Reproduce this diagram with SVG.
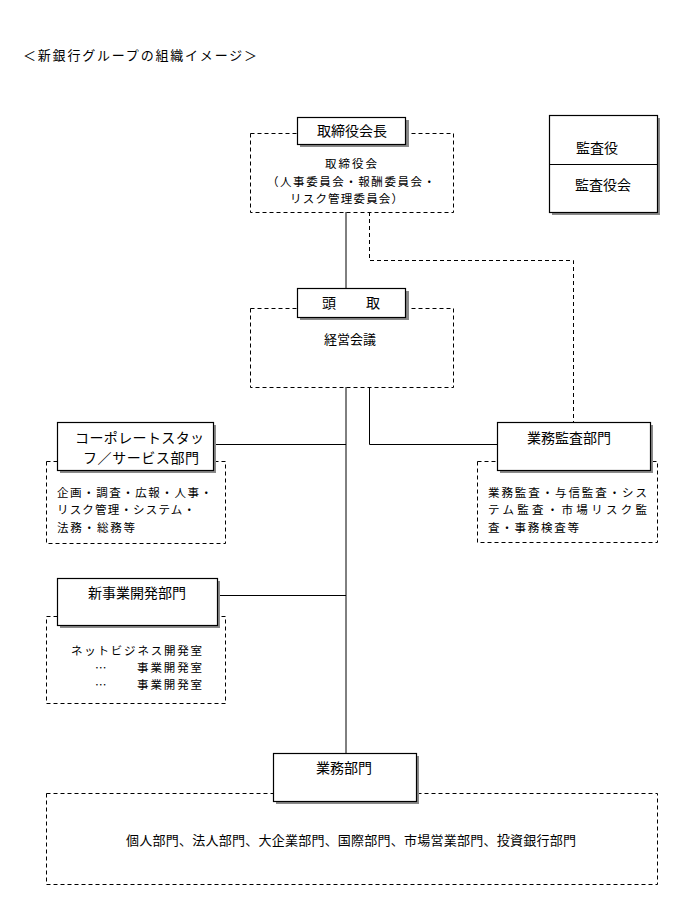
<svg xmlns="http://www.w3.org/2000/svg" width="693" height="907" viewBox="0 0 693 907">
<style>
text{font-family:"Noto Sans CJK JP","Noto Sans CJK SC",sans-serif;fill:#000;font-size:13px}
.lbl{font-size:14px}
.sm{font-size:11.5px}
.mid{text-anchor:middle}
.dash{fill:none;stroke:#000;stroke-width:1;stroke-dasharray:4,3}
.box{fill:#fff;stroke:#000;stroke-width:1.2}
.shadow{fill:#8a8a8a}
.line{fill:none;stroke:#000;stroke-width:1}
.dline{fill:none;stroke:#000;stroke-width:1;stroke-dasharray:4,3}
</style>
<rect width="693" height="907" fill="#fff"/>
<text id="title" x="23" y="60" textLength="234" lengthAdjust="spacing">＜新銀行グループの組織イメージ＞</text>
<g id="connectors">
<line class="line" x1="346" y1="212" x2="346" y2="288"/>
<line class="line" x1="346" y1="387" x2="346" y2="753"/>
<polyline class="dline" points="369.5,212 369.5,260.5 573.5,260.5 573.5,422"/>
<polyline class="line" points="369.5,387 369.5,444.5 497,444.5"/>
<line class="line" x1="213" y1="444.5" x2="346" y2="444.5"/>
<line class="line" x1="217" y1="595.5" x2="346" y2="595.5"/>
</g>
<g id="node-chairman">
<rect class="dash" x="250.5" y="133.5" width="203" height="79"/>
<rect class="shadow" x="300" y="120" width="109" height="27"/>
<rect class="box" x="297.5" y="117.5" width="108" height="27"/>
<text class="lbl mid" x="352" y="136">取締役会長</text>
<text class="sm mid" x="351" y="167.5" textLength="52" lengthAdjust="spacing">取締役会</text>
<text class="sm" x="267" y="185.5" textLength="168" lengthAdjust="spacing">（人事委員会・報酬委員会・</text>
<text class="sm" x="290" y="202.5" textLength="113" lengthAdjust="spacing">リスク管理委員会）</text>
</g>
<g id="node-auditor">
<rect class="shadow" x="552" y="118" width="108" height="97"/>
<rect class="box" x="549.5" y="115.5" width="108" height="97"/>
<line class="line" x1="549.5" y1="164.5" x2="657.5" y2="164.5"/>
<text class="lbl mid" x="597" y="153">監査役</text>
<text class="lbl mid" x="603" y="190">監査役会</text>
</g>
<g id="node-president">
<rect class="dash" x="250.5" y="308.5" width="203" height="79"/>
<rect class="shadow" x="300" y="291" width="109" height="29"/>
<rect class="box" x="297.5" y="288.5" width="108" height="29"/>
<text class="lbl" x="322" y="308">頭</text>
<text class="lbl" x="366" y="308">取</text>
<text class="mid" x="350" y="344">経営会議</text>
</g>
<g id="node-corporate">
<rect class="dash" x="46.5" y="461.5" width="179" height="82"/>
<rect class="shadow" x="60" y="425" width="156" height="48"/>
<rect class="box" x="57.5" y="422.5" width="156" height="48"/>
<text class="lbl" x="75" y="443" textLength="129" lengthAdjust="spacing">コーポレートスタッ</text>
<text class="lbl" x="83" y="463" textLength="116" lengthAdjust="spacing">フ／サービス部門</text>
<text class="sm" x="57" y="496.5" textLength="155" lengthAdjust="spacing">企画・調査・広報・人事・</text>
<text class="sm" x="57" y="513.5" textLength="138" lengthAdjust="spacing">リスク管理・システム・</text>
<text class="sm" x="57" y="531.5" textLength="78" lengthAdjust="spacing">法務・総務等</text>
</g>
<g id="node-audit-dept">
<rect class="dash" x="477.5" y="461.5" width="180" height="81"/>
<rect class="shadow" x="500" y="425" width="153" height="48"/>
<rect class="box" x="497.5" y="422.5" width="153" height="48"/>
<text class="lbl mid" x="569" y="443">業務監査部門</text>
<text class="sm" x="488" y="496.5" textLength="159" lengthAdjust="spacing">業務監査・与信監査・シス</text>
<text class="sm" x="488" y="513.5" textLength="159" lengthAdjust="spacing">テム監査・市場リスク監</text>
<text class="sm" x="488" y="531.5" textLength="91" lengthAdjust="spacing">査・事務検査等</text>
</g>
<g id="node-newbiz">
<rect class="dash" x="46.5" y="616.5" width="179" height="87"/>
<rect class="shadow" x="60" y="581" width="160" height="47"/>
<rect class="box" x="57.5" y="578.5" width="160" height="47"/>
<text class="lbl mid" x="137" y="598">新事業開発部門</text>
<text class="sm" x="71" y="654.5" textLength="131" lengthAdjust="spacing">ネットビジネス開発室</text>
<text class="sm" x="95" y="671.5">…</text>
<text class="sm" x="137" y="671.5" textLength="65" lengthAdjust="spacing">事業開発室</text>
<text class="sm" x="95" y="688.5">…</text>
<text class="sm" x="137" y="688.5" textLength="65" lengthAdjust="spacing">事業開発室</text>
</g>
<g id="node-business">
<rect class="dash" x="46.5" y="793.5" width="611" height="91"/>
<rect class="shadow" x="276" y="756" width="143" height="48"/>
<rect class="box" x="273.5" y="753.5" width="143" height="48"/>
<text class="lbl mid" x="344" y="773">業務部門</text>
<text x="126" y="845" textLength="450" lengthAdjust="spacing">個人部門、法人部門、大企業部門、国際部門、市場営業部門、投資銀行部門</text>
</g>
</svg>
